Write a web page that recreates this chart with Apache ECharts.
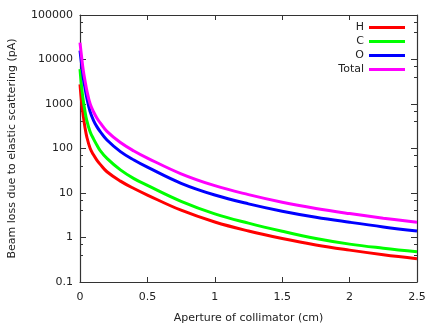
<!DOCTYPE html>
<html>
<head>
<meta charset="utf-8">
<script src="https://cdn.jsdelivr.net/npm/echarts@6/dist/echarts.min.js"></script>
<style>
    html, body { margin: 0; padding: 0; background: #fff; }
    #chart { width: 438px; height: 328px; }
</style>
</head>
<body>
<div id="chart"></div>
<script>
// aperture (cm)
var apertures = [0, 0.0125, 0.025, 0.0375, 0.05, 0.075, 0.1, 0.125, 0.15, 0.2, 0.3, 0.4, 0.5, 0.75, 1, 1.25, 1.5, 1.75, 2, 2.25, 2.5]
// beam loss (pA)
var lossH = [2770, 1050, 520, 290, 185, 101, 72, 55, 44, 30, 18.5, 12.6, 9.0, 4.1, 2.23, 1.40, 0.95, 0.68, 0.52, 0.41, 0.334]
var lossC = [6100, 2300, 1150, 673, 430, 239, 165, 120, 90, 60, 33, 21, 14.8, 6.5, 3.4, 2.1, 1.38, 0.95, 0.71, 0.575, 0.48]
var lossO = [15800, 7500, 3800, 2250, 1400, 673, 430, 310, 240, 155, 85, 55, 38, 16.5, 9.0, 5.7, 3.9, 2.85, 2.2, 1.73, 1.40]
var lossTotal = [24000, 11000, 5500, 3300, 2050, 1010, 670, 485, 375, 243, 136, 88, 61, 27, 14.6, 9.2, 6.2, 4.5, 3.45, 2.72, 2.2]
var xTicks = [0, 0.5, 1, 1.5, 2, 2.5]

var FONT = 'DejaVu Sans'
var AXIS_COLOR = '#333'

function pairs(ys) {
    return apertures.map(function(x, i) { return [x, ys[i]] })
}

function lineSeries(name, ys, color) {
    return {
        name: name,
        type: 'line',
        data: pairs(ys),
        smooth: 0.4,
        showSymbol: false,
        symbol: 'none',
        lineStyle: { color: color, width: 3 },
        itemStyle: { color: color },
        animation: false
    }
}

function xAxisOpt(top) {
    return {
        type: 'value',
        position: top ? 'top' : 'bottom',
        min: 0,
        max: 2.5,
        interval: 0.5,
        name: top ? '' : 'Aperture of collimator (cm)',
        nameLocation: 'middle',
        nameGap: 31,
        nameTextStyle: { fontFamily: FONT, fontSize: 11, color: '#222' },
        axisLine: { show: true, onZero: false, lineStyle: { color: AXIS_COLOR, width: 1.2 } },
        axisTick: { show: true, inside: true, length: 5, lineStyle: { color: AXIS_COLOR } },
        axisLabel: {
            show: !top,
            margin: 10,
            fontFamily: FONT,
            fontSize: 11,
            color: '#222',
            formatter: function(v) { return xTicks.indexOf(v) >= 0 ? String(v) : '' }
        },
        splitLine: { show: false }
    }
}

function yAxisOpt(right) {
    return {
        type: 'log',
        logBase: 10,
        position: right ? 'right' : 'left',
        min: 0.1,
        max: 100000,
        name: right ? '' : 'Beam loss due to elastic scattering (pA)',
        nameLocation: 'middle',
        nameRotate: 90,
        nameGap: 62,
        nameTextStyle: { fontFamily: FONT, fontSize: 11, color: '#222' },
        axisLine: { show: true, onZero: false, lineStyle: { color: AXIS_COLOR, width: 1.2 } },
        axisTick: { show: true, inside: true, length: 6, lineStyle: { color: AXIS_COLOR } },
        minorTick: { show: true, splitNumber: 3, length: 3, lineStyle: { color: AXIS_COLOR } },
        axisLabel: {
            show: !right,
            margin: 7,
            fontFamily: FONT,
            fontSize: 11,
            color: '#222',
            formatter: function(v) { return String(v) }
        },
        splitLine: { show: false },
        minorSplitLine: { show: false }
    }
}

var chart = echarts.init(document.getElementById('chart'), null, { renderer: 'canvas' })
chart.setOption({
    backgroundColor: '#fff',
    animation: false,
    grid: { left: 80, right: 21, top: 15, bottom: 46, containLabel: false, outerBoundsMode: 'none' },
    legend: {
        right: 28,
        top: 17,
        orient: 'vertical',
        align: 'right',
        itemWidth: 36,
        itemHeight: 3,
        itemGap: 3,
        icon: 'rect',
        textStyle: { fontFamily: FONT, fontSize: 11, color: '#222' },
        data: ['H', 'C', 'O', 'Total']
    },
    xAxis: [xAxisOpt(false), xAxisOpt(true)],
    yAxis: [yAxisOpt(false), yAxisOpt(true)],
    series: [
        lineSeries('H', lossH, '#ff0000'),
        lineSeries('C', lossC, '#00ff00'),
        lineSeries('O', lossO, '#0000ff'),
        lineSeries('Total', lossTotal, '#ff00ff')
    ]
})
</script>
</body>
</html>
